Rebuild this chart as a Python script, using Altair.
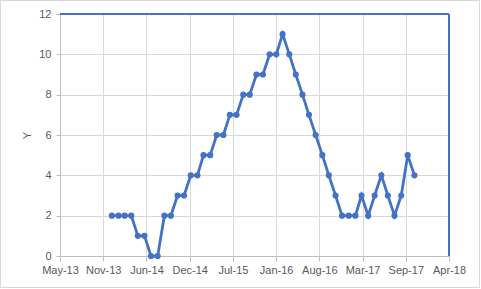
import altair as alt
import pandas as pd

months = [
    "2014-01-01", "2014-02-01", "2014-03-01", "2014-04-01", "2014-05-01", "2014-06-01",
    "2014-07-01", "2014-08-01", "2014-09-01", "2014-10-01", "2014-11-01", "2014-12-01",
    "2015-01-01", "2015-02-01", "2015-03-01", "2015-04-01", "2015-05-01", "2015-06-01",
    "2015-07-01", "2015-08-01", "2015-09-01", "2015-10-01", "2015-11-01", "2015-12-01",
    "2016-01-01", "2016-02-01", "2016-03-01", "2016-04-01", "2016-05-01", "2016-06-01",
    "2016-07-01", "2016-08-01", "2016-09-01", "2016-10-01", "2016-11-01", "2016-12-01",
    "2017-01-01", "2017-02-01", "2017-03-01", "2017-04-01", "2017-05-01", "2017-06-01",
    "2017-07-01", "2017-08-01", "2017-09-01", "2017-10-01", "2017-11-01",
]
values = [
    2, 2, 2, 2, 1, 1,
    0, 0, 2, 2, 3, 3,
    4, 4, 5, 5, 6, 6,
    7, 7, 8, 8, 9, 9,
    10, 10, 11, 10, 9, 8,
    7, 6, 5, 4, 3, 2,
    2, 2, 3, 2, 3, 4,
    3, 2, 3, 5, 4,
]
# axis tick dates (200-day steps, as in the original date axis)
tick_dates = [
    (2013, 5, 6), (2013, 11, 22), (2014, 6, 10), (2014, 12, 27), (2015, 7, 15),
    (2016, 1, 31), (2016, 8, 18), (2017, 3, 6), (2017, 9, 22), (2018, 4, 10),
]
y_ticks = [0, 2, 4, 6, 8, 10, 12]

df = pd.DataFrame({"date": months, "y": values})

W, H = 389, 242
PAD_L, PAD_T, PAD_R, PAD_B = 60, 14, 32, 33

label_color = "#595959"
grid_color = "#d9d9d9"
blue = "#4472C4"
font = "Liberation Sans"

x_scale = alt.Scale(
    type="utc",
    domain=[alt.DateTime(year=2013, month=5, date=6, utc=True),
            alt.DateTime(year=2018, month=4, date=10, utc=True)],
)
x_axis = alt.Axis(
    values=[alt.DateTime(year=a, month=b, date=c, utc=True) for a, b, c in tick_dates],
    labelExpr="utcFormat(datum.value, '%b-%y')",
    title=None,
    grid=True,
    gridColor=grid_color,
    domainColor="#bfbfbf",
    tickColor="#bfbfbf",
    tickSize=5,
    labelPadding=3,
    labelColor=label_color,
    labelFont=font,
    labelFontSize=11,
    labelFlush=False,
    labelOverlap=False,
)
y_axis = alt.Axis(
    values=y_ticks,
    title="Y",
    titleColor=label_color,
    titleFont=font,
    titleFontSize=11,
    titleFontWeight="normal",
    titlePadding=6,
    grid=True,
    gridColor=grid_color,
    domainColor="#bfbfbf",
    tickColor="#bfbfbf",
    tickSize=4,
    labelPadding=5,
    labelColor=label_color,
    labelFont=font,
    labelFontSize=11,
)

base = alt.Chart(df)

line = base.mark_line(color=blue, strokeWidth=2.8, point=alt.OverlayMarkDef(color=blue, size=38, filled=True, opacity=1)).encode(
    x=alt.X("date:T", scale=x_scale, axis=x_axis),
    y=alt.Y("y:Q", scale=alt.Scale(domain=[0, 12], nice=False), axis=y_axis),
)

top_rule = base.mark_rule(color=blue, strokeWidth=1).encode(
    x=alt.value(0), x2=alt.value(W), y=alt.value(0)
)
right_rule = base.mark_rule(color=blue, strokeWidth=1).encode(
    x=alt.value(W), y=alt.value(0), y2=alt.value(H)
)
outer = base.mark_rect(fill=None, stroke="#d9d9d9", strokeWidth=1).encode(
    x=alt.value(-PAD_L + 0.5), x2=alt.value(W + PAD_R - 1.5),
    y=alt.value(-PAD_T + 0.5), y2=alt.value(H + PAD_B - 1.5),
)

chart = alt.layer(outer, line, top_rule, right_rule).properties(
    width=W, height=H,
    padding={"left": PAD_L, "top": PAD_T, "right": PAD_R, "bottom": PAD_B},
    autosize=alt.AutoSizeParams(type="none"),
    background="white",
).configure_view(stroke=None)

chart.save("out.html", embed_options={"renderer": "svg", "actions": False})
